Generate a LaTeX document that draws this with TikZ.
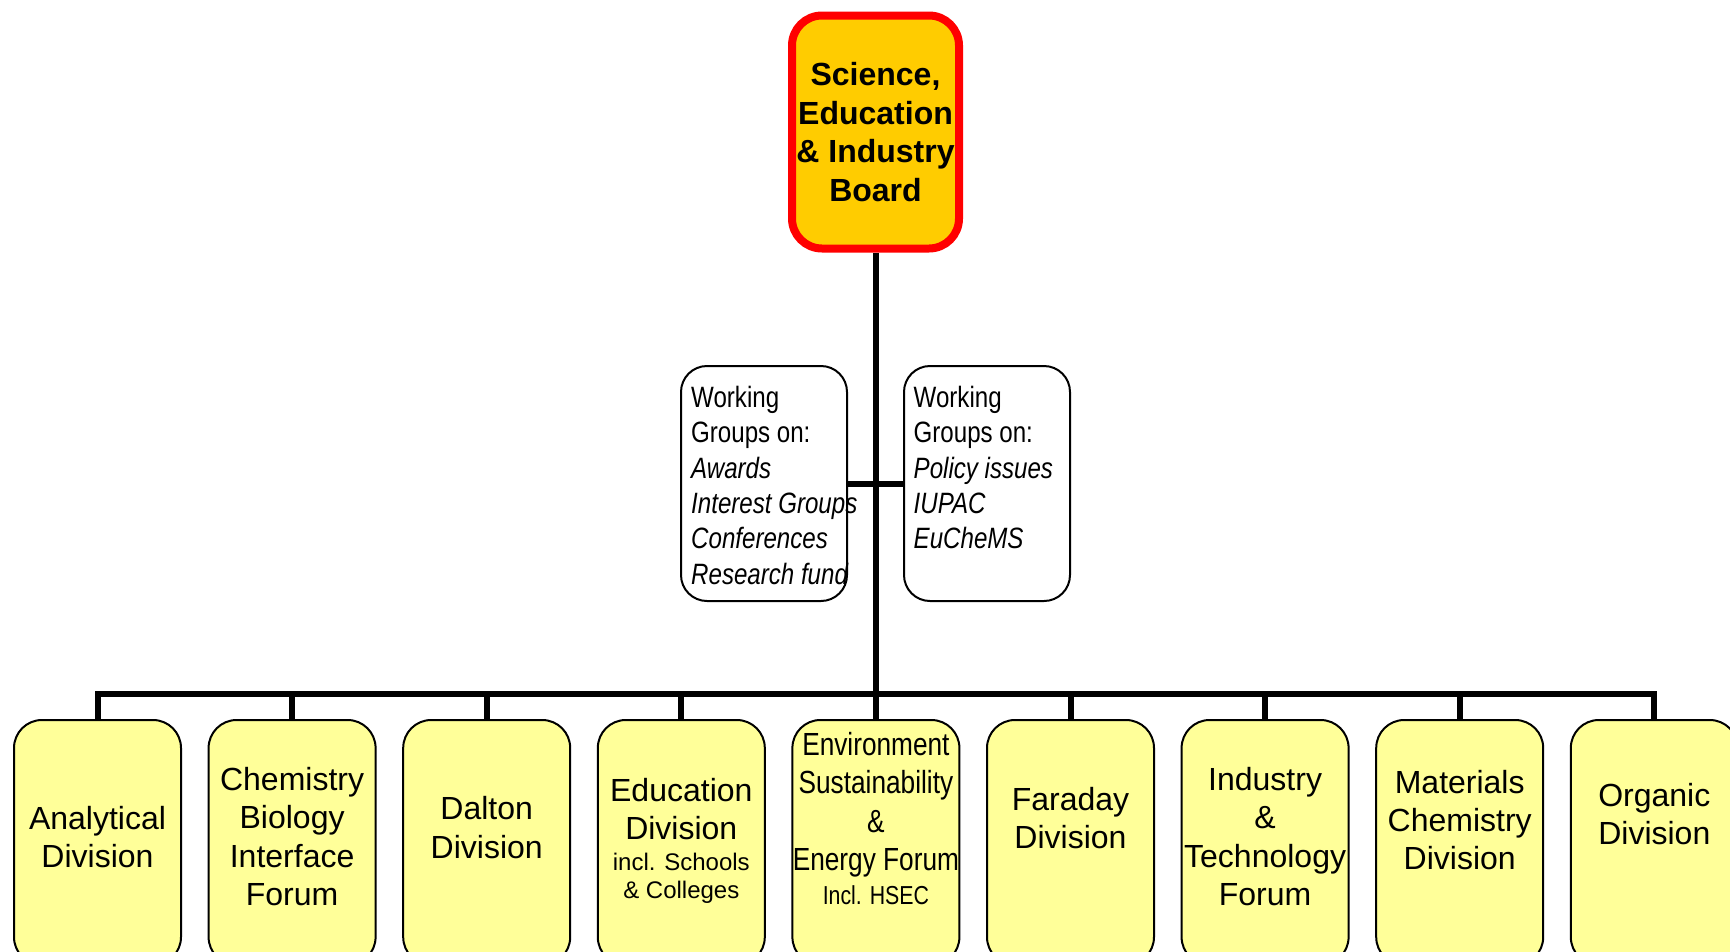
\documentclass[tikz,border=0pt]{standalone}
\usepackage{fontspec}
\setmainfont{Liberation Sans}
\newfontfamily\narrowfont[FakeStretch=0.82]{Liberation Sans}
\definecolor{topfill}{HTML}{FFCC00}
\definecolor{topred}{HTML}{FF0000}
\definecolor{divfill}{HTML}{FFFF99}
\pgfdeclarelayer{bg}
\pgfsetlayers{bg,main}
\begin{document}
\begin{tikzpicture}[x=1pt,y=-1pt,
  topbox/.style={draw=topred, line width=8pt, fill=topfill, rounded corners=30pt,
    minimum width=167pt, minimum height=233pt, inner sep=0pt, align=center,
    font=\fontsize{32}{38.4}\selectfont\bfseries},
  wgbox/.style={draw, line width=2pt, fill=white, rounded corners=26pt,
    minimum width=166pt, minimum height=235pt},
  divbox/.style={draw, line width=2pt, fill=divfill, rounded corners=28pt,
    minimum width=167pt, minimum height=245pt},
  wgtext/.style={align=left, inner sep=0pt, anchor=north west,
    font=\narrowfont\fontsize{29.4}{35.3}\selectfont},
  divtext/.style={align=center, inner sep=0pt, font=\fontsize{32}{38.4}\selectfont},
  conn/.style={line width=6pt}]
\useasboundingbox (0,0) rectangle (1730,951);

% board
\node[topbox] (board) at (875.5,132) {Science,\\Education\\\& Industry\\Board};

% working groups
\node[wgbox] (wgl) at (764,483.5) {};
\node[wgbox] (wgr) at (987,483.5) {};
\node[wgtext] (wglt) at (691,386) {Working\\Groups on:\\\textit{Awards}\\\textit{Interest Groups}\\\textit{Conferences}\\\textit{Research fund}};
\node[wgtext] (wgrt) at (913.5,386) {Working\\Groups on:\\\textit{Policy issues}\\\textit{IUPAC}\\\textit{EuCheMS}};

% divisions
\foreach \i in {1,...,9}
  \node[divbox] (d\i) at ({97.5+(\i-1)*194.6},842.5) {};

\node[divtext] (t1) at (d1 |- 0,837) {Analytical\\Division};
\node[divtext] (t2) at (d2 |- 0,836.6) {Chemistry\\Biology\\Interface\\Forum};
\node[divtext] (t3) at (d3 |- 0,827.5) {Dalton\\Division};
\node[divtext] (t4) at (d4 |- 0,841) {Education\\Division\\[-8pt]\fontsize{24}{28.8}\selectfont incl. Schools\\[-10pt]\fontsize{24}{28.8}\selectfont\& Colleges};
\node[divtext, font=\narrowfont\fontsize{32}{38.4}\selectfont] (t5) at (d5 |- 0,818.6) {Environment\\Sustainability\\\&\\Energy Forum\\[-4pt]\fontsize{26}{31}\selectfont Incl. HSEC};
\node[divtext] (t6) at (d6 |- 0,818) {Faraday\\Division};
\node[divtext] (t7) at (d7 |- 0,836.6) {Industry\\\&\\Technology\\Forum};
\node[divtext] (t8) at (d8 |- 0,820) {Materials\\Chemistry\\Division};
\node[divtext] (t9) at (d9 |- 0,814) {Organic\\Division};

% connectors
\coordinate (barlevel) at (0,694);
\coordinate (j) at (board.south |- barlevel);
\begin{pgfonlayer}{bg}
  \draw[conn] (board.south) -- (j);
  \draw[conn] (d1.north) -- (d1.north |- j) -- (d9.north |- j) -- (d9.north);
  \foreach \i in {2,...,8}
    \draw[conn] (d\i.north) -- (d\i.north |- j);
  \draw[conn] (wgl.east) -- (wgr.west);
\end{pgfonlayer}
\end{tikzpicture}
\end{document}
